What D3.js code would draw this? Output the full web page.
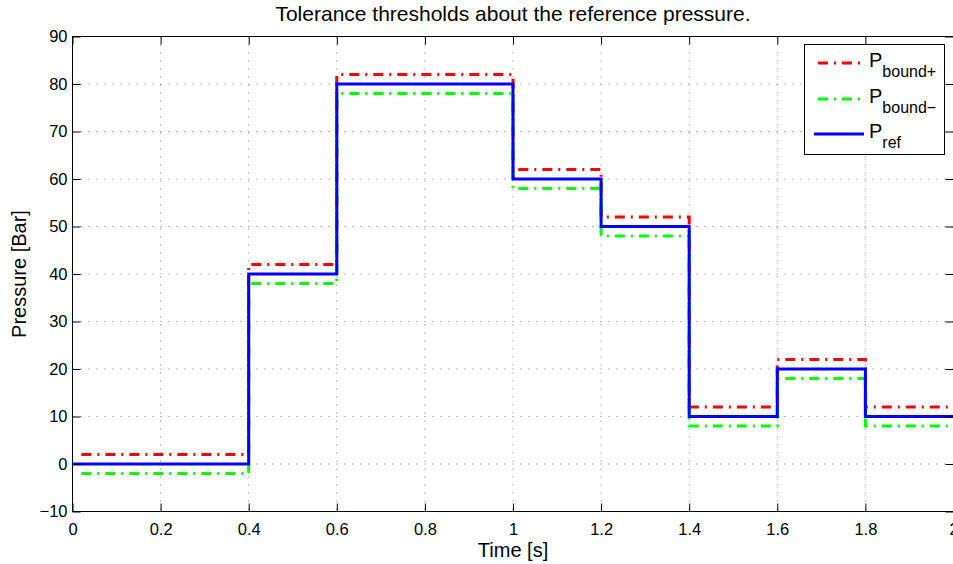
<!DOCTYPE html>
<html><head><meta charset="utf-8">
<script src="https://cdn.jsdelivr.net/npm/d3@7/dist/d3.min.js"></script>
<style>body{margin:0;background:#fff}svg{display:block}text{font-family:"Liberation Sans",Arial,sans-serif}</style>
</head><body><svg id="c" width="953" height="564"></svg>
<script>
// Step edges (time) and pressure levels per interval
const timeEdges = [0, 0.4, 0.6, 1.0, 1.2, 1.4, 1.6, 1.8, 2.0];
const pRef        = [0, 40, 80, 60, 50, 10, 20, 10];
const pBoundPlus  = [2, 42, 82, 62, 52, 12, 22, 12];
const pBoundMinus = [-2, 38, 78, 58, 48, 8, 18, 8];
const boundStart = 0.02;
const xTicks = [0, 0.2, 0.4, 0.6, 0.8, 1, 1.2, 1.4, 1.6, 1.8, 2];
const yTicks = [-10, 0, 10, 20, 30, 40, 50, 60, 70, 80, 90];

const m = {left: 72.5, right: 953.5, top: 36.5, bottom: 511.5};
const svg = d3.select("#c");
const x = d3.scaleLinear().domain([0, 2]).range([m.left, m.right]);
const y = d3.scaleLinear().domain([-10, 90]).range([m.bottom, m.top]);

// grid
const grid = svg.append("g");
xTicks.forEach(t => grid.append("line").attr("x1", x(t)).attr("x2", x(t)).attr("y1", m.top).attr("y2", m.bottom)
  .attr("stroke", "#777").attr("stroke-width", 1).attr("stroke-dasharray", "1,7"));
yTicks.forEach(t => grid.append("line").attr("y1", y(t)).attr("y2", y(t)).attr("x1", m.left).attr("x2", m.right)
  .attr("stroke", "#777").attr("stroke-width", 1).attr("stroke-dasharray", "1,7"));

function stepPts(vals, start) {
  const pts = [];
  vals.forEach((v, i) => {
    const a = i === 0 ? start : timeEdges[i];
    pts.push([a, v]);
    pts.push([timeEdges[i + 1], v]);
  });
  return pts;
}
const line = d3.line().x(d => x(d[0])).y(d => y(d[1]));
svg.append("clipPath").attr("id", "pc").append("rect")
  .attr("x", m.left).attr("y", m.top).attr("width", m.right - m.left).attr("height", m.bottom - m.top);
const plot = svg.append("g").attr("clip-path", "url(#pc)");
plot.append("path").attr("d", line(stepPts(pBoundPlus, boundStart))).attr("fill", "none")
  .attr("stroke", "#ff0000").attr("stroke-width", 3).attr("stroke-dasharray", "10,6,2,6");
plot.append("path").attr("d", line(stepPts(pBoundMinus, boundStart))).attr("fill", "none")
  .attr("stroke", "#00ff00").attr("stroke-width", 3).attr("stroke-dasharray", "10,6,2,6");
plot.append("path").attr("d", line(stepPts(pRef, 0))).attr("fill", "none")
  .attr("stroke", "#0000ff").attr("stroke-width", 3);

// frame
svg.append("rect").attr("x", m.left).attr("y", m.top).attr("width", m.right - m.left).attr("height", m.bottom - m.top)
  .attr("fill", "none").attr("stroke", "#000").attr("stroke-width", 1);

// axes with inward ticks
const tk = 8;
const axB = d3.axisBottom(x).tickValues(xTicks).tickSize(-tk).tickPadding(12).tickFormat(d3.format("~g"));
const axT = d3.axisTop(x).tickValues(xTicks).tickSize(-tk).tickFormat("");
const axL = d3.axisLeft(y).tickValues(yTicks).tickSize(-tk).tickPadding(5)
  .tickFormat(d => d < 0 ? "\u2212" + Math.abs(d) : d);
const axR = d3.axisRight(y).tickValues(yTicks).tickSize(-tk).tickFormat("");
[[axB, `translate(0,${m.bottom})`], [axT, `translate(0,${m.top})`], [axL, `translate(${m.left},0)`], [axR, `translate(${m.right},0)`]]
  .forEach(([ax, tr]) => {
    const g = svg.append("g").attr("transform", tr).call(ax);
    g.select(".domain").remove();
    g.selectAll("line").attr("stroke", "#000");
    g.selectAll("text").attr("font-size", 16.5).attr("fill", "#000").style("font-family", '"Liberation Sans",Arial,sans-serif');
  });

// labels
svg.append("text").attr("x", (m.left + m.right) / 2).attr("y", 21).attr("text-anchor", "middle")
  .attr("font-size", 21).text("Tolerance thresholds about the reference pressure.");
svg.append("text").attr("x", (m.left + m.right) / 2).attr("y", 557).attr("text-anchor", "middle")
  .attr("font-size", 20).text("Time [s]");
svg.append("text").attr("transform", `translate(26,${(m.top + m.bottom) / 2}) rotate(-90)`).attr("text-anchor", "middle")
  .attr("font-size", 20).text("Pressure [Bar]");

// legend
const lg = svg.append("g");
lg.append("rect").attr("x", 804.5).attr("y", 44.5).attr("width", 140).attr("height", 110)
  .attr("fill", "#fff").attr("stroke", "#000").attr("stroke-width", 1);
const items = [
  {sub: "bound+", color: "#ff0000", dash: "10,6,2,6", y: 63},
  {sub: "bound\u2212", color: "#00ff00", dash: "10,6,2,6", y: 99},
  {sub: "ref", color: "#0000ff", dash: null, y: 134}
];
items.forEach(it => {
  const l = lg.append("line").attr("x1", 814).attr("x2", 864).attr("y1", it.y).attr("y2", it.y)
    .attr("stroke", it.color).attr("stroke-width", 3);
  if (it.dash) l.attr("stroke-dasharray", it.dash).attr("stroke-dashoffset", -4);
  const t = lg.append("text").attr("x", 869).attr("y", it.y + 4).attr("font-size", 20);
  t.append("tspan").text("P");
  t.append("tspan").attr("dy", 10).attr("font-size", 16).text(it.sub);
});
</script></body></html>
